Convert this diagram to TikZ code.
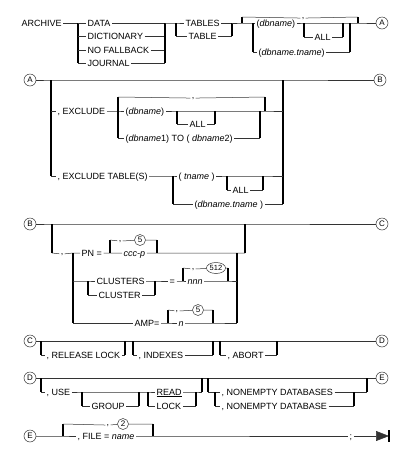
\documentclass[tikz,border=0pt]{standalone}
\usepackage{fontspec}
\setmainfont{Liberation Sans}
\usepackage{tikz}
\usetikzlibrary{shapes.geometric, arrows.meta, positioning, calc}

\begin{document}
\begin{tikzpicture}[x=1pt, y=-1pt, font=\fontsize{9}{10}\selectfont]
    \tikzstyle{word} = [anchor=west, inner xsep=1.5pt, inner ysep=0.5pt, text height=6.4pt, text depth=0pt]
    \tikzstyle{sep} = [anchor=base, inner sep=1.2pt]
    \tikzstyle{rail} = [line width=0.5pt, draw=black!80]
    \tikzstyle{bar} = [line width=1.3pt, draw=black]
    \tikzstyle{conn} = [circle, draw=black!80, line width=0.5pt, minimum size=12pt, inner sep=0pt, font=\fontsize{8}{8}\selectfont]
    \tikzstyle{rep} = [circle, draw=black!80, line width=0.5pt, minimum size=11pt, inner sep=0pt, font=\fontsize{8}{8}\selectfont]
    \tikzstyle{repx} = [ellipse, draw=black!80, line width=0.5pt, minimum height=11pt, inner xsep=0.5pt, inner ysep=0pt, font=\fontsize{7.5}{8}\selectfont]

    \useasboundingbox (0,0) rectangle (413,451);

    % ARCHIVE ... (A)
    \node[word] (archive) at (20,23) {ARCHIVE};
    \coordinate (c1) at (78,23);
    \node[word] (data) at (86,23) {DATA};
    \node[word] (dict) at (86,36) {DICTIONARY};
    \node[word] (nofb) at (86,50) {NO FALLBACK};
    \node[word] (journal) at (86,63) {JOURNAL};
    \coordinate (c2) at (165,23);
    \coordinate (c3) at (176,23);
    \node[word] (tables) at (184,23) {TABLES};
    \node[word] (table) at (187,36) {TABLE};
    \coordinate (c4) at (232,23);
    \coordinate (l1) at (242,23);
    \coordinate (l1top) at (242,17);
    \node[sep] (comma1) at (303,18) {,};
    \coordinate (l2) at (358,23);
    \coordinate (l2top) at (358,17);
    \coordinate (d1) at (253,23);
    \node[word] (dbn) at (255,23) {(\textit{dbname})};
    \coordinate (d2) at (304,23);
    \node[word] (all1) at (313,37) {ALL};
    \coordinate (d3) at (343,23);
    \coordinate (d4) at (350,23);
    \node[word] (dbt) at (257,52) {(\textit{dbname.tname})};
    \node[conn] (ca1) at (382,23) {A};

    \draw[rail] (archive) -- (c1);
    \draw[bar] (c1) -- (c1 |- journal);
    \foreach \n in {data, dict, nofb, journal}
        \draw[rail] (c1 |- \n) -- (\n) -- (c2 |- \n);
    \draw[bar] (c2) -- (c2 |- journal);
    \draw[rail] (c2) -- (c3) -- (tables) -- (c4);
    \draw[bar] (c3) -- (c3 |- table);
    \draw[rail] (c3 |- table) -- (table) -- (c4 |- table);
    \draw[bar] (c4) -- (c4 |- table);
    \draw[rail] (c4) -- (l1) -- (d1) -- (dbn) -- (d2) -- (d3) -- (d4) -- (l2) -- (ca1);
    \draw[bar] (l1top) -- (l1);
    \draw[rail] (l1top) -- (comma1) -- (l2top);
    \draw[bar] (l2top) -- (l2);
    \draw[bar] (d1) -- (d1 |- dbt);
    \draw[rail] (d1 |- dbt) -- (dbt) -- (d4 |- dbt);
    \draw[bar] (d4) -- (d4 |- dbt);
    \draw[bar] (d2) -- (d2 |- all1);
    \draw[rail] (d2 |- all1) -- (all1) -- (d3 |- all1);
    \draw[bar] (d3) -- (d3 |- all1);

    % (A) EXCLUDE ... (B)
    \node[conn] (ca2) at (30,80) {A};
    \node[conn] (cb1) at (380,80) {B};
    \coordinate (e1) at (51,80);
    \coordinate (e2) at (283,80);
    \node[word] (excl) at (56,111) {, EXCLUDE};
    \node[word] (excltab) at (56,176) {, EXCLUDE TABLE(S)};
    \coordinate (f1) at (118,111);
    \coordinate (f1top) at (118,97);
    \node[sep] (comma2) at (193,98) {,};
    \coordinate (f2) at (265,111);
    \coordinate (f2top) at (265,97);
    \node[word] (dbn2) at (124,111) {(\textit{dbname})};
    \coordinate (f3) at (177,111);
    \node[word] (all2) at (188,124) {ALL};
    \coordinate (f4) at (215,111);
    \coordinate (f5) at (260,111);
    \node[word] (dbto) at (124,138) {(\textit{dbname}1) TO ( \textit{dbname}2)};
    \coordinate (g1) at (173,176);
    \node[word] (tname) at (177,176) {( \textit{tname} )};
    \coordinate (g2) at (227,176);
    \node[word] (all3) at (231,190) {ALL};
    \coordinate (g3) at (263,176);
    \node[word] (dbt2) at (193,204) {(\textit{dbname.tname} )};

    \draw[rail] (ca2) -- (e1) -- (e2) -- (cb1);
    \draw[bar] (e1) -- (e1 |- excltab);
    \draw[bar] (e2) -- (e2 |- dbt2);
    \draw[rail] (e1 |- excl) -- (excl) -- (f1) -- (dbn2) -- (f3) -- (f4) -- (f5) -- (f2) -- (e2 |- f2);
    \draw[bar] (f1top) -- (f1 |- dbto);
    \draw[rail] (f1top) -- (comma2) -- (f2top);
    \draw[bar] (f2top) -- (f2);
    \draw[bar] (f3) -- (f3 |- all2);
    \draw[rail] (f3 |- all2) -- (all2) -- (f4 |- all2);
    \draw[bar] (f4) -- (f4 |- all2);
    \draw[rail] (f1 |- dbto) -- (dbto) -- (f5 |- dbto);
    \draw[bar] (f5) -- (f5 |- dbto);
    \draw[rail] (e1 |- excltab) -- (excltab) -- (g1) -- (tname) -- (g2) -- (g3) -- (e2 |- g1);
    \draw[bar] (g1) -- (g1 |- dbt2);
    \draw[rail] (g1 |- dbt2) -- (dbt2) -- (e2 |- dbt2);
    \draw[bar] (g2) -- (g2 |- all3);
    \draw[rail] (g2 |- all3) -- (all3) -- (g3 |- all3);
    \draw[bar] (g3) -- (g3 |- all3);

    % (B) PN / CLUSTERS / AMP (C)
    \node[conn] (cb2) at (30,224) {B};
    \node[conn] (cc1) at (382,224) {C};
    \coordinate (h1) at (52,224);
    \coordinate (h2) at (245,224);
    \coordinate (h3) at (52,253);
    \node[sep] (comma3) at (62,254) {,};
    \coordinate (k1) at (73,253);
    \node[word] (pn) at (80,253) {PN =};
    \coordinate (k2) at (110,253);
    \coordinate (k2top) at (110,240);
    \node[sep] (comma4) at (120,241) {,};
    \node[rep] (five1) at (140,240) {5};
    \coordinate (k3) at (157,253);
    \coordinate (k3top) at (157,240);
    \node[word] (cccp) at (122,253) {\textit{ccc-p}};
    \coordinate (k4) at (237,253);
    \coordinate (m1) at (88,281);
    \node[word] (clusters) at (95,281) {CLUSTERS};
    \node[word] (cluster) at (97,295) {CLUSTER};
    \coordinate (m2) at (155,281);
    \node[word] (eq) at (168,281) {=};
    \coordinate (m3) at (183,281);
    \coordinate (m3top) at (183,268);
    \node[sep] (comma5) at (193,269) {,};
    \node[repx] (n512) at (216,268) {512};
    \coordinate (m4) at (228,281);
    \coordinate (m4top) at (228,268);
    \node[word] (nnn) at (186,281) {\textit{nnn}};
    \node[word] (amp) at (133,323) {AMP=};
    \coordinate (p1) at (168,323);
    \coordinate (p1top) at (168,310);
    \node[sep] (comma6) at (177,311) {,};
    \node[rep] (five2) at (198,310) {5};
    \coordinate (p2) at (213,323);
    \coordinate (p2top) at (213,310);
    \node[word] (nn) at (177,323) {\textit{n}};

    \draw[rail] (cb2) -- (h1) -- (h2) -- (cc1);
    \draw[bar] (h1) -- (h3);
    \draw[bar] (h2) -- (h2 |- k4);
    \draw[rail] (h3) -- (comma3) -- (k1) -- (pn) -- (k2) -- (cccp) -- (k3) -- (k4) -- (h2 |- k4);
    \draw[bar] (k2top) -- (k2);
    \draw[rail] (k2top) -- (comma4) -- (five1) -- (k3top);
    \draw[bar] (k3top) -- (k3);
    \draw[bar] (k1) -- (k1 |- amp);
    \draw[bar] (k4) -- (k4 |- amp);
    \draw[rail] (k1 |- m1) -- (m1) -- (clusters) -- (m2) -- (eq) -- (m3) -- (nnn) -- (m4) -- (k4 |- m1);
    \draw[bar] (m1) -- (m1 |- cluster);
    \draw[rail] (m1 |- cluster) -- (cluster) -- (m2 |- cluster);
    \draw[bar] (m2) -- (m2 |- cluster);
    \draw[bar] (m3top) -- (m3);
    \draw[rail] (m3top) -- (comma5) -- (n512) -- (m4top);
    \draw[bar] (m4top) -- (m4);
    \draw[rail] (k1 |- amp) -- (amp) -- (p1) -- (nn) -- (p2) -- (k4 |- amp);
    \draw[bar] (p1top) -- (p1);
    \draw[rail] (p1top) -- (comma6) -- (five2) -- (p2top);
    \draw[bar] (p2top) -- (p2);

    % (C) RELEASE LOCK / INDEXES / ABORT (D)
    \node[conn] (cc2) at (30,341) {C};
    \node[conn] (cd1) at (382,341) {D};
    \coordinate (q1) at (41,341);
    \node[word] (rel) at (45,355) {, RELEASE LOCK};
    \coordinate (q2) at (125,341);
    \coordinate (q3) at (133,341);
    \node[word] (idx) at (137,355) {, INDEXES};
    \coordinate (q4) at (213,341);
    \coordinate (q5) at (220,341);
    \node[word] (abort) at (226,355) {, ABORT};
    \coordinate (q6) at (277,341);

    \draw[rail] (cc2) -- (cd1);
    \foreach \a/\t/\b in {q1/rel/q2, q3/idx/q4, q5/abort/q6} {
        \draw[bar] (\a) -- (\a |- \t);
        \draw[rail] (\a |- \t) -- (\t) -- (\b |- \t);
        \draw[bar] (\b) -- (\b |- \t);
    }

    % (D) USE / NONEMPTY (E)
    \node[conn] (cd2) at (30,378) {D};
    \node[conn] (ce1) at (382,378) {E};
    \coordinate (s1) at (41,378);
    \node[word] (use) at (45,392) {, USE};
    \coordinate (s2) at (82,392);
    \node[word] (group) at (90,406) {GROUP};
    \coordinate (s3) at (139,392);
    \coordinate (s4) at (148,392);
    \node[word] (read) at (155,392) {\underline{READ}};
    \node[word] (lock) at (155,406) {LOCK};
    \coordinate (s5) at (196,392);
    \coordinate (s6) at (202,378);
    \coordinate (t1) at (208,378);
    \coordinate (t2) at (215,392);
    \node[word] (nedbs) at (220,392) {, NONEMPTY DATABASES};
    \node[word] (nedb) at (220,406) {, NONEMPTY DATABASE};
    \coordinate (t3) at (354,392);
    \coordinate (t4) at (367,378);

    \draw[rail] (cd2) -- (ce1);
    \draw[bar] (s1) -- (s1 |- use);
    \draw[rail] (s1 |- use) -- (use) -- (s2) -- (s3) -- (s4) -- (read) -- (s5) -- (s6 |- s5);
    \draw[bar] (s6) -- (s6 |- s5);
    \draw[bar] (s2) -- (s2 |- group);
    \draw[rail] (s2 |- group) -- (group) -- (s3 |- group);
    \draw[bar] (s3) -- (s3 |- group);
    \draw[bar] (s4) -- (s4 |- lock);
    \draw[rail] (s4 |- lock) -- (lock) -- (s5 |- lock);
    \draw[bar] (s5) -- (s5 |- lock);
    \draw[bar] (t1) -- (t1 |- nedbs);
    \draw[rail] (t1 |- nedbs) -- (nedbs) -- (t4 |- nedbs);
    \draw[bar] (t4) -- (t4 |- nedbs);
    \draw[bar] (t2) -- (t2 |- nedb);
    \draw[rail] (t2 |- nedb) -- (nedb) -- (t3 |- nedb);
    \draw[bar] (t3) -- (t3 |- nedb);

    % (E) FILE = name ;
    \node[conn] (ce2) at (30,436) {E};
    \coordinate (u1) at (63,436);
    \coordinate (u1top) at (63,424);
    \node[sep] (comma7) at (108,425) {,};
    \node[rep] (two) at (123,424) {2};
    \coordinate (u2) at (153,436);
    \coordinate (u2top) at (153,424);
    \node[word] (file) at (76,436) {, FILE = \textit{name}};
    \node[word] (semi) at (348,436) {;};
    \coordinate (stop) at (389,436);

    \draw[rail] (ce2) -- (u1) -- (file) -- (u2) -- (semi);
    \draw[bar] (u1top) -- (u1);
    \draw[rail] (u1top) -- (comma7) -- (two) -- (u2top);
    \draw[bar] (u2top) -- (u2);
    \draw[rail, -{Triangle[length=13pt, width=10pt]}] (semi) -- (stop);
    \draw[bar] ([yshift=6pt]stop) -- ([yshift=-6pt]stop);
\end{tikzpicture}
\end{document}
